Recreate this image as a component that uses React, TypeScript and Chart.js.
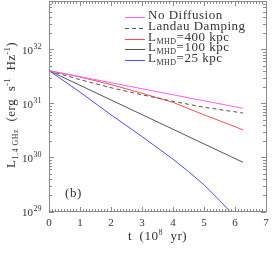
import React, { useEffect, useRef } from 'react';
import { Chart, registerables } from 'chart.js';

Chart.register(...registerables);

// ---- data ----
const noDiffT = [0, 6.26];
const noDiffL = [4.14e31, 8.3e30];
const landauT = [0, 1, 2, 3, 4, 5, 6.26];
const landauL = [4.14e31, 2.82e31, 2.0e31, 1.48e31, 1.12e31, 8.7e30, 6.8e30];
const mhd400T = [0, 1, 2, 3, 4, 5, 6, 6.26];
const mhd400L = [4.14e31, 3.16e31, 2.29e31, 1.58e31, 1.07e31, 6.3e30, 3.8e30, 3.3e30];
const mhd100T = [0, 6.26];
const mhd100L = [4.14e31, 8.3e29];
const mhd25T = [0, 1, 2, 3, 4, 4.5, 5, 5.5, 5.85];
const mhd25L = [4.14e31, 1.66e31, 6.3e30, 2.5e30, 9.5e29, 5.6e29, 3.2e29, 1.65e29, 1.0e29];

const xTickValues = [0, 1, 2, 3, 4, 5, 6, 7];
const yDecades = [29, 30, 31, 32];
const seriesNames = ['No Diffusion', 'Landau Damping', 'L_MHD=400 kpc', 'L_MHD=100 kpc', 'L_MHD=25 kpc'];
const seriesColors = ['#ff5cff', '#555555', '#ff4d4d', '#555555', '#4d4dff'];
const seriesDash: number[][] = [[], [4, 3], [], [], []];
const panelLabel = '(b)';
const panelPos = { x: 0.52, y: 2.15e29 };

const SERIF = '"Liberation Serif", "Times New Roman", serif';
const AXIS = '#8a8a8a';
const TEXT = '#333333';

type Seg = { text: string; size: number; dy: number };

function richWidth(ctx: CanvasRenderingContext2D, segs: Seg[]) {
  let w = 0;
  for (const s of segs) {
    ctx.font = `${s.size}px ${SERIF}`;
    w += ctx.measureText(s.text).width;
  }
  return w;
}

function drawRich(ctx: CanvasRenderingContext2D, segs: Seg[], x: number, y: number, align: 'left' | 'center') {
  const w = richWidth(ctx, segs);
  let cx = align === 'center' ? x - w / 2 : x;
  ctx.textAlign = 'left';
  ctx.textBaseline = 'alphabetic';
  for (const s of segs) {
    ctx.font = `${s.size}px ${SERIF}`;
    ctx.fillText(s.text, cx, y + s.dy);
    cx += ctx.measureText(s.text).width;
  }
}

function nameSegs(name: string): Seg[] {
  if (name.startsWith('L_MHD')) {
    return [
      { text: 'L', size: 13, dy: 0 },
      { text: 'MHD', size: 8, dy: 3 },
      { text: name.slice(5), size: 13, dy: 0 },
    ];
  }
  return [{ text: name, size: 13, dy: 0 }];
}

const framePlugin = {
  id: 'frame',
  afterDraw(chart: any) {
    const { ctx, chartArea } = chart;
    const { left, top, right, bottom } = chartArea;
    const xs = chart.scales.x;
    const ys = chart.scales.y;
    const px = (v: number) => Math.floor(v) + 0.5;
    ctx.save();
    ctx.strokeStyle = AXIS;
    ctx.lineWidth = 1;
    ctx.strokeRect(px(left), px(top), Math.round(right - left), Math.round(bottom - top) - 1);

    // x ticks
    ctx.beginPath();
    for (let i = 0; i <= 70; i++) {
      const t = i / 10;
      const x = px(xs.getPixelForValue(t));
      const len = i % 10 === 0 ? 5 : 3;
      ctx.moveTo(x, bottom);
      ctx.lineTo(x, bottom - len);
      ctx.moveTo(x, top);
      ctx.lineTo(x, top + len);
    }
    // y ticks
    for (let d = 28; d <= 33; d++) {
      for (let m = 1; m <= 9; m++) {
        const v = m * Math.pow(10, d);
        if (v < ys.min * 0.999 || v > ys.max) continue;
        const y = px(ys.getPixelForValue(v));
        const len = m === 1 ? 5 : 3;
        ctx.moveTo(left, y);
        ctx.lineTo(left + len, y);
        ctx.moveTo(right, y);
        ctx.lineTo(right - len, y);
      }
    }
    ctx.stroke();

    // x labels
    ctx.fillStyle = TEXT;
    ctx.font = `11px ${SERIF}`;
    ctx.textAlign = 'center';
    ctx.textBaseline = 'middle';
    for (const t of xTickValues) {
      ctx.fillText(String(t), xs.getPixelForValue(t), bottom + 11);
    }
    // y labels
    for (const d of yDecades) {
      const y = ys.getPixelForValue(Math.pow(10, d));
      ctx.font = `11px ${SERIF}`;
      ctx.textAlign = 'right';
      ctx.textBaseline = 'middle';
      ctx.fillText('10', 33, y + 1);
      ctx.font = `8px ${SERIF}`;
      ctx.textAlign = 'left';
      ctx.fillText(String(d), 33.5, y - 3);
    }

    (ctx as any).letterSpacing = '0.5px';
    // x title
    drawRich(
      ctx,
      [
        { text: 't  (10', size: 13, dy: 0 },
        { text: '8', size: 8, dy: -5 },
        { text: '  yr)', size: 13, dy: 0 },
      ],
      (left + right) / 2,
      bottom + 28,
      'center'
    );

    // y title (rotated)
    ctx.save();
    ctx.translate(14.5, 105);
    ctx.rotate(-Math.PI / 2);
    drawRich(
      ctx,
      [
        { text: 'L', size: 13, dy: 0 },
        { text: '1.4 GHz', size: 8, dy: 3 },
        { text: '  (erg  s', size: 13, dy: 0 },
        { text: '-1', size: 8, dy: -5 },
        { text: '  Hz', size: 13, dy: 0 },
        { text: '-1', size: 8, dy: -5 },
        { text: ')', size: 13, dy: 0 },
      ],
      0,
      0,
      'center'
    );
    ctx.restore();

    // panel label
    ctx.font = `13px ${SERIF}`;
    ctx.textAlign = 'left';
    ctx.textBaseline = 'middle';
    ctx.fillText(panelLabel, xs.getPixelForValue(panelPos.x), ys.getPixelForValue(panelPos.y));

    // legend
    const rows = [17, 28, 39, 49.5, 60];
    seriesNames.forEach((name, i) => {
      const y = rows[i];
      ctx.strokeStyle = seriesColors[i];
      ctx.setLineDash(seriesDash[i]);
      ctx.beginPath();
      ctx.moveTo(125, px(y));
      ctx.lineTo(145, px(y));
      ctx.stroke();
      ctx.setLineDash([]);
      ctx.fillStyle = TEXT;
      drawRich(ctx, nameSegs(name), 148, y + 1.5, 'left');
    });
    (ctx as any).letterSpacing = '0px';
    ctx.restore();
  },
};

function toPts(t: number[], l: number[]) {
  return t.map((v, i) => ({ x: v, y: l[i] }));
}

export default function App() {
  const ref = useRef<HTMLCanvasElement>(null);
  useEffect(() => {
    if (!ref.current) return;
    const series = [
      toPts(noDiffT, noDiffL),
      toPts(landauT, landauL),
      toPts(mhd400T, mhd400L),
      toPts(mhd100T, mhd100L),
      toPts(mhd25T, mhd25L),
    ];
    const chart = new Chart(ref.current, {
      type: 'line',
      data: {
        datasets: series.map((d, i) => ({
          label: seriesNames[i],
          data: d,
          borderColor: seriesColors[i],
          borderWidth: 1,
          borderDash: seriesDash[i],
          pointRadius: 0,
          tension: 0,
          fill: false,
        })),
      },
      options: {
        animation: false,
        responsive: false,
        devicePixelRatio: 1,
        layout: { padding: { left: 49, right: 9, top: 1, bottom: 52 } },
        scales: {
          x: { type: 'linear', min: 0, max: 7, display: false },
          y: { type: 'logarithmic', min: 1e29, max: Math.pow(10, 32.907), display: false },
        },
        plugins: { legend: { display: false }, tooltip: { enabled: false } },
      },
      plugins: [framePlugin],
    } as any);
    return () => chart.destroy();
  }, []);
  return (
    <div style={{ position: 'fixed', left: 0, top: 0, width: 275, height: 264, background: '#fff' }}>
      <canvas ref={ref} width={275} height={264} />
    </div>
  );
}
